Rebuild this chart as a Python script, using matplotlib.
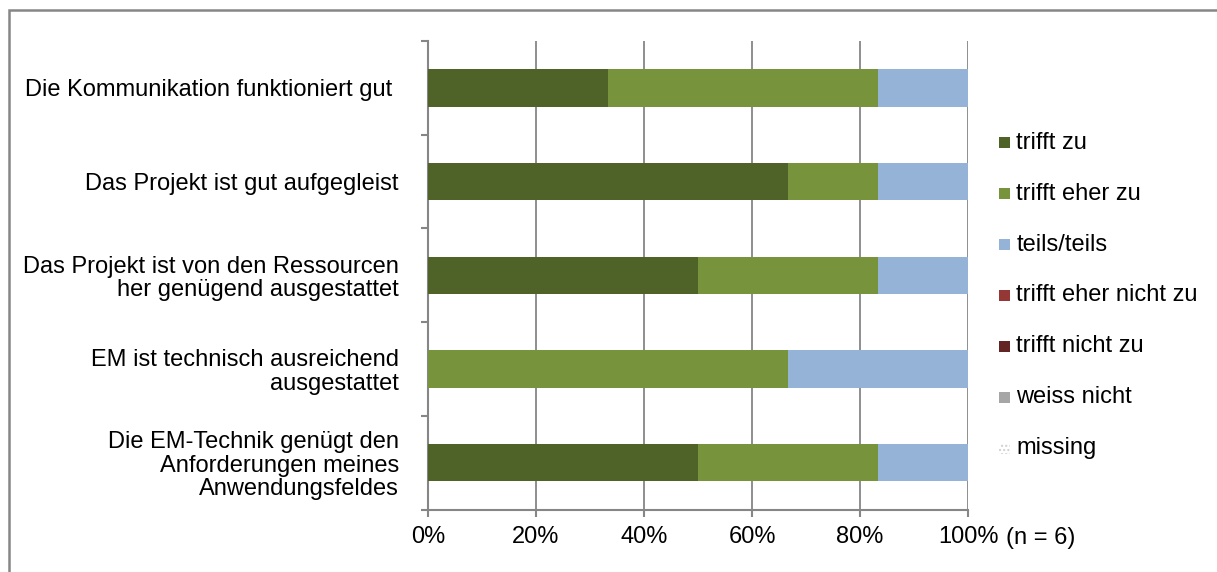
import matplotlib
matplotlib.use("Agg")
import matplotlib.pyplot as plt
from matplotlib.patches import Rectangle
import numpy as np

plt.rcParams['font.family'] = ['Liberation Sans', 'DejaVu Sans']
plt.rcParams['hatch.linewidth'] = 1.0

categories = [
    "Die Kommunikation funktioniert gut ",
    "Das Projekt ist gut aufgegleist",
    "Das Projekt ist von den Ressourcen\nher genügend ausgestattet",
    "EM ist technisch ausreichend\nausgestattet",
    "Die EM-Technik genügt den\nAnforderungen meines\nAnwendungsfeldes",
]
n_total = 6
series = ["trifft zu", "trifft eher zu", "teils/teils", "trifft eher nicht zu",
          "trifft nicht zu", "weiss nicht", "missing"]
trifft_zu = [2, 4, 3, 0, 3]
trifft_eher_zu = [3, 1, 2, 4, 2]
teils_teils = [1, 1, 1, 2, 1]
trifft_eher_nicht_zu = [0, 0, 0, 0, 0]
trifft_nicht_zu = [0, 0, 0, 0, 0]
weiss_nicht = [0, 0, 0, 0, 0]
missing = [0, 0, 0, 0, 0]
counts = [trifft_zu, trifft_eher_zu, teils_teils, trifft_eher_nicht_zu,
          trifft_nicht_zu, weiss_nicht, missing]
colors = ["#4F6228", "#77933C", "#95B3D7", "#953735", "#632523", "#A6A6A6", "#FFFFFF"]
xticklabels = ["0%", "20%", "40%", "60%", "80%", "100%"]

FS = 17
W, H = 1217, 572
fig = plt.figure(figsize=(W / 100, H / 100), dpi=100)

# outer chart frame (only left/top edges visible)
fig.patches.append(Rectangle((8.5 / W, -0.5), 1.5, 1.5 - 9.5 / H, transform=fig.transFigure,
                             fill=False, edgecolor="#868686", linewidth=1.8, zorder=0))

ax_l, ax_r, ax_t, ax_b = 428, 968, 41, 509.5
ax = fig.add_axes([ax_l / W, 1 - ax_b / H, (ax_r - ax_l) / W, (ax_b - ax_t) / H])

y = np.arange(len(categories))
left = np.zeros(len(categories))
for name, vals, col in zip(series, counts, colors):
    pct = np.array(vals) / n_total * 100
    kw = {}
    if name == "missing":
        kw = dict(hatch="....", edgecolor="#D0D0D0")
    ax.barh(y, pct, left=left, height=0.40, color=col, zorder=3, linewidth=0, **kw)
    left += pct

ax.set_ylim(len(categories) - 0.5, -0.5)
ax.set_xlim(0, 100)

ax.set_yticks(y)
ax.set_yticklabels(categories, fontsize=FS, linespacing=1.08)
ax.set_yticks(np.arange(-0.5, len(categories), 1), minor=True)
ax.tick_params(axis='y', which='major', length=0, pad=21)
ax.tick_params(axis='y', which='minor', length=5, width=1.5, color="#868686", direction='out')

ax.set_xticks(np.linspace(0, 100, len(xticklabels)))
ax.set_xticklabels(xticklabels, fontsize=FS)
ax.tick_params(axis='x', length=5, width=1.5, color="#868686", direction='out', pad=7)

ax.grid(axis='x', color="#868686", linewidth=1.3, zorder=0)
for s in ["top", "right"]:
    ax.spines[s].set_visible(False)
for s in ["left", "bottom"]:
    ax.spines[s].set_color("#868686")
    ax.spines[s].set_linewidth(1.5)

fig.text(1006 / W, 1 - 538 / H, "(n = 6)", fontsize=FS, va='center', ha='left')

# legend
leg_y0, leg_dy = 142.7, 50.9
for i, (name, col) in enumerate(zip(series, colors)):
    yc = leg_y0 + i * leg_dy
    sq = 11
    kw = dict(facecolor=col, edgecolor='none')
    if name == "missing":
        kw = dict(facecolor="white", edgecolor="#D0D0D0", hatch="....", linewidth=0)
    fig.patches.append(Rectangle((999.5 / W, 1 - (yc + sq / 2) / H), sq / W, sq / H,
                                 transform=fig.transFigure, **kw))
    fig.text(1016.5 / W, 1 - yc / H, name, fontsize=FS, va='center', ha='left')

fig.savefig("out.png", dpi=100)
